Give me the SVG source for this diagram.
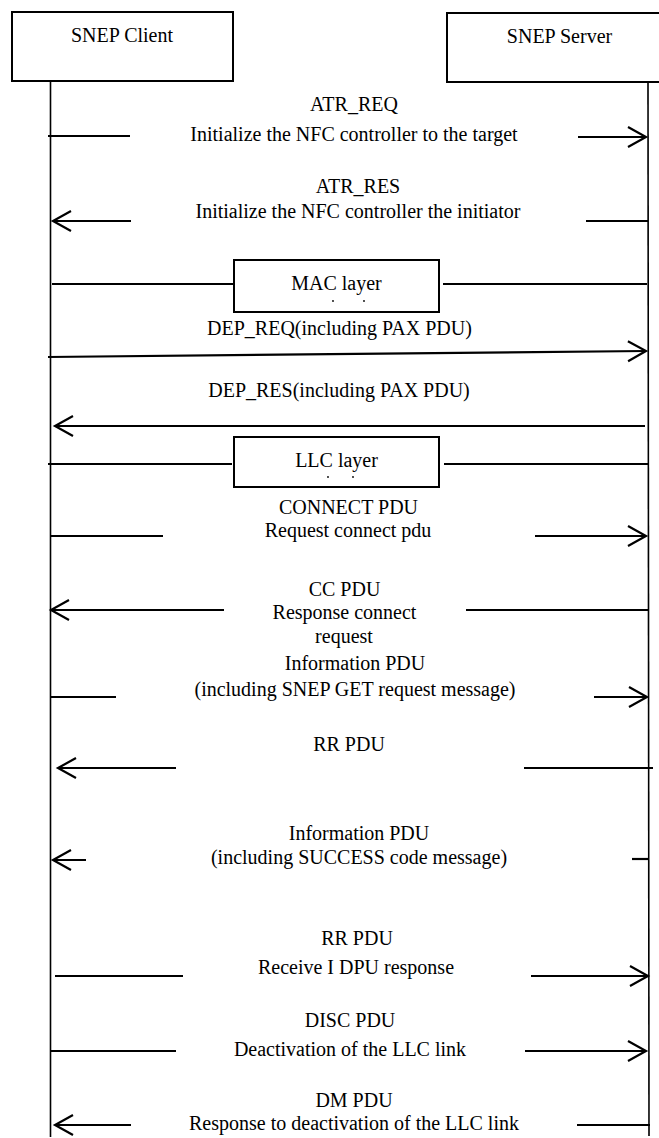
<svg xmlns="http://www.w3.org/2000/svg" width="659" height="1138" viewBox="0 0 659 1138">
<style>
text{font-family:"Liberation Serif","Times New Roman",serif;font-size:20px;fill:#000;text-anchor:middle}
.box{fill:#fff;stroke:#000;stroke-width:2}
.life{stroke:#000;stroke-width:1.6;fill:none}
.msg{stroke:#000;stroke-width:2.2;fill:none}
.arr{stroke:#000;stroke-width:2.2;fill:none;marker-end:url(#ah)}
.dot{fill:#000}
</style>
<defs>
<marker id="ah" markerUnits="userSpaceOnUse" markerWidth="26" markerHeight="26" viewBox="-22 -13 26 26" refX="0" refY="0" orient="auto">
<path d="M-18,-10 L0,0 L-18,10" fill="none" stroke="#000" stroke-width="2.2"/>
</marker>
</defs>
<g id="client">
<rect class="box" x="12" y="12" width="221" height="69"/>
<text x="122" y="42">SNEP Client</text>
</g>
<g id="server">
<rect class="box" x="447" y="13" width="220" height="69"/>
<text x="559.5" y="43">SNEP Server</text>
</g>
<g id="lifelines">
<line class="life" x1="50.5" y1="81" x2="50.5" y2="1137"/>
<line class="life" x1="648" y1="82" x2="649" y2="1136"/>
</g>
<g id="mac">
<rect class="box" x="234" y="260" width="205" height="52"/>
<text x="336.5" y="290">MAC layer</text>
<circle class="dot" cx="333" cy="301" r="0.9"/>
<circle class="dot" cx="364" cy="301" r="0.9"/>
</g>
<g id="llc">
<rect class="box" x="234" y="437" width="205" height="50"/>
<text x="336.5" y="467">LLC layer</text>
<circle class="dot" cx="328" cy="477" r="0.9"/>
<circle class="dot" cx="353" cy="477" r="0.9"/>
</g>
<g id="labels">
<text x="354" y="111">ATR_REQ</text>
<text x="354" y="141">Initialize the NFC controller to the target</text>
<text x="358" y="193">ATR_RES</text>
<text x="358" y="218">Initialize the NFC controller the initiator</text>
<text x="339.5" y="335">DEP_REQ(including PAX PDU)</text>
<text x="339" y="397">DEP_RES(including PAX PDU)</text>
<text x="348.5" y="514">CONNECT PDU</text>
<text x="348" y="537">Request connect pdu</text>
<text x="344.5" y="596">CC PDU</text>
<text x="344.5" y="619">Response connect</text>
<text x="344" y="643">request</text>
<text x="355" y="670">Information PDU</text>
<text x="355" y="696">(including SNEP GET request message)</text>
<text x="349" y="751">RR PDU</text>
<text x="359" y="840">Information PDU</text>
<text x="359" y="864">(including SUCCESS code message)</text>
<text x="357" y="945">RR PDU</text>
<text x="356" y="974">Receive I DPU response</text>
<text x="350" y="1027">DISC PDU</text>
<text x="350" y="1056">Deactivation of the LLC link</text>
<text x="354" y="1107">DM PDU</text>
<text x="354" y="1130">Response to deactivation of the LLC link</text>
</g>
<g id="connectors">
<line class="msg" x1="48" y1="136" x2="130" y2="136"/>
<line class="arr" x1="578" y1="137" x2="646" y2="137"/>
<line class="arr" x1="131" y1="221" x2="53" y2="221"/>
<line class="msg" x1="586" y1="221" x2="648" y2="221"/>
<line class="msg" x1="52" y1="284" x2="234" y2="284"/>
<line class="msg" x1="443" y1="284" x2="647" y2="284"/>
<line class="arr" x1="48" y1="357" x2="646" y2="351"/>
<line class="arr" x1="645" y1="426" x2="55" y2="426"/>
<line class="msg" x1="48" y1="464" x2="232" y2="464"/>
<line class="msg" x1="444" y1="464" x2="648" y2="464"/>
<line class="msg" x1="51" y1="536" x2="163" y2="536"/>
<line class="arr" x1="535" y1="536" x2="646" y2="536"/>
<line class="arr" x1="224" y1="610" x2="51" y2="610"/>
<line class="msg" x1="466" y1="610" x2="648" y2="610"/>
<line class="msg" x1="51" y1="697" x2="116" y2="697"/>
<line class="arr" x1="594" y1="697" x2="647" y2="697"/>
<line class="arr" x1="176" y1="768" x2="58" y2="768"/>
<line class="msg" x1="524" y1="768" x2="653" y2="768"/>
<line class="arr" x1="86" y1="860" x2="53" y2="860"/>
<line class="msg" x1="632" y1="859" x2="648" y2="859"/>
<line class="msg" x1="55" y1="976" x2="183" y2="976"/>
<line class="arr" x1="531" y1="976" x2="648" y2="976"/>
<line class="msg" x1="50" y1="1051" x2="176" y2="1051"/>
<line class="arr" x1="525" y1="1051" x2="646" y2="1051"/>
<line class="arr" x1="131" y1="1125" x2="55" y2="1125"/>
<line class="msg" x1="577" y1="1125" x2="650" y2="1125"/>
</g>
</svg>
